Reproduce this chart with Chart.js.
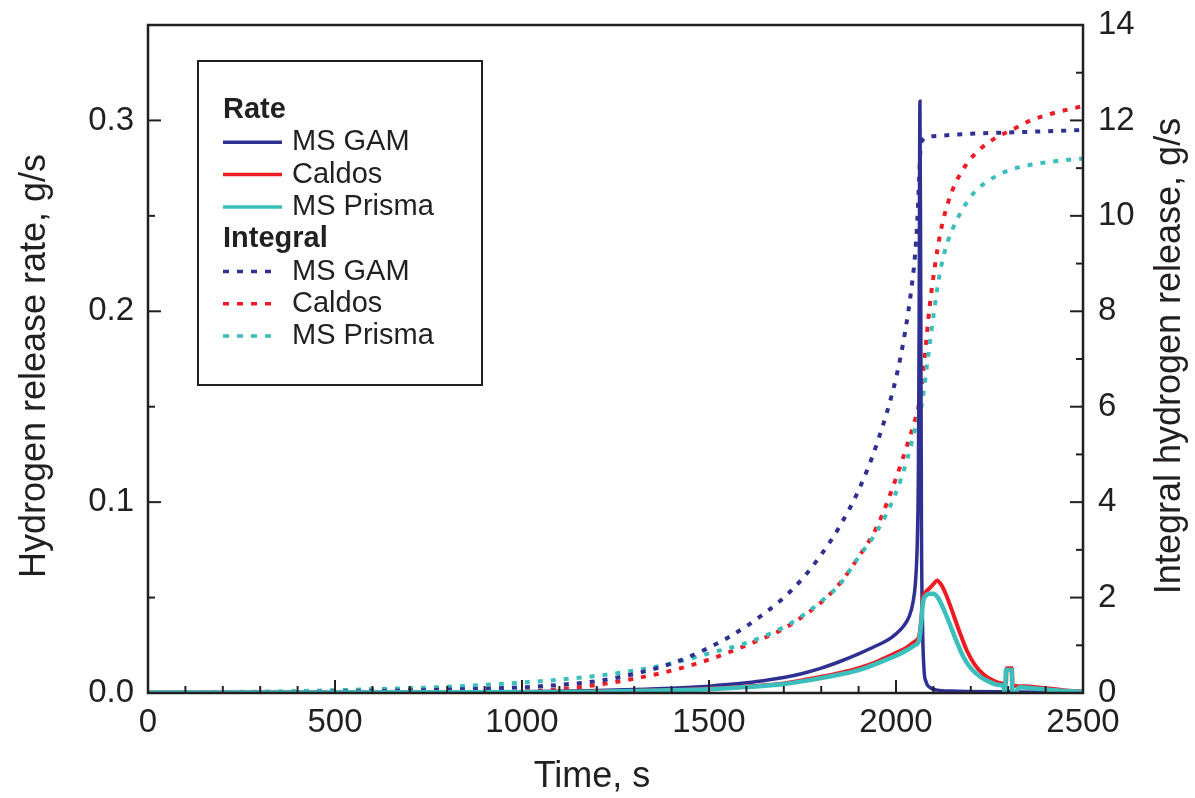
<!DOCTYPE html>
<html lang="en">
<head>
<meta charset="UTF-8">
<title>Hydrogen release</title>
<style>
  * { margin: 0; padding: 0; }
  body { background: #fff; width: 1195px; height: 798px; overflow: hidden; }
  canvas { display: block; }
</style>
</head>
<body>
<canvas id="chart" width="1195" height="798"></canvas>
<script src="https://cdn.jsdelivr.net/npm/chart.js@4/dist/chart.umd.min.js"></script>
<script>
// axis ticks
const xTicks    = [0, 500, 1000, 1500, 2000, 2500];
const rateTicks = [0, 0.1, 0.2, 0.3];
const intTicks  = [0, 2, 4, 6, 8, 10, 12, 14];

// release rate, g/s (left axis)
const gamRateT = [0, 200, 400, 600, 800, 1000, 1100, 1200, 1300, 1400, 1500, 1550, 1600, 1650, 1700, 1750, 1800, 1850, 1900, 1950, 1980, 2000, 2020, 2035, 2045, 2052, 2057, 2060, 2062, 2064, 2066, 2068, 2071, 2075, 2080, 2090, 2110, 2150, 2200, 2300, 2400, 2500];
const gamRate  = [0.0003, 0.0003, 0.0004, 0.0004, 0.0005, 0.0007, 0.0009, 0.0013, 0.0018, 0.0025, 0.0036, 0.0044, 0.0054, 0.0066, 0.0081, 0.0102, 0.013, 0.0165, 0.0205, 0.025, 0.028, 0.031, 0.035, 0.04, 0.047, 0.058, 0.08, 0.12, 0.2, 0.31, 0.22, 0.09, 0.035, 0.012, 0.006, 0.003, 0.0015, 0.001, 0.0008, 0.0006, 0.0004, 0.0003];

const caldosRateT = [0, 400, 800, 1000, 1200, 1300, 1400, 1500, 1600, 1700, 1800, 1850, 1900, 1950, 2000, 2030, 2050, 2062, 2068, 2072, 2080, 2090, 2100, 2110, 2120, 2135, 2150, 2170, 2190, 2210, 2235, 2260, 2285, 2294, 2296, 2310, 2312, 2340, 2400, 2450, 2500];
const caldosRate  = [0.0002, 0.0002, 0.0003, 0.0005, 0.0008, 0.0011, 0.0015, 0.0022, 0.0034, 0.005, 0.0085, 0.0105, 0.013, 0.0165, 0.021, 0.024, 0.027, 0.03, 0.04, 0.05, 0.053, 0.055, 0.057, 0.059, 0.057, 0.051, 0.043, 0.032, 0.022, 0.015, 0.0095, 0.0065, 0.005, 0.005, 0.013, 0.013, 0.004, 0.0035, 0.0025, 0.0015, 0.0008];

const prismaRateT = [0, 400, 800, 1000, 1200, 1300, 1400, 1500, 1600, 1700, 1800, 1850, 1900, 1950, 2000, 2030, 2050, 2062, 2068, 2072, 2080, 2090, 2100, 2112, 2125, 2140, 2160, 2180, 2200, 2225, 2250, 2275, 2288, 2291, 2294, 2309, 2312, 2330, 2380, 2440, 2500];
const prismaRate  = [0.0003, 0.0003, 0.0004, 0.0005, 0.0007, 0.001, 0.0014, 0.002, 0.0031, 0.0047, 0.0078, 0.0097, 0.012, 0.0155, 0.0195, 0.0225, 0.025, 0.028, 0.038, 0.047, 0.051, 0.052, 0.052, 0.05, 0.045, 0.038, 0.028, 0.019, 0.013, 0.0085, 0.0058, 0.0042, 0.0035, -0.003, 0.012, 0.012, -0.002, 0.003, 0.0022, 0.0012, 0.0007];

// integral release, g (right axis)
const gamIntT = [0, 400, 800, 1000, 1100, 1200, 1300, 1400, 1500, 1600, 1700, 1750, 1800, 1850, 1900, 1950, 2000, 2025, 2040, 2050, 2057, 2062, 2066, 2072, 2085, 2120, 2200, 2350, 2500];
const gamInt  = [0, 0.02, 0.07, 0.12, 0.17, 0.25, 0.4, 0.62, 0.95, 1.4, 2.0, 2.4, 2.9, 3.5, 4.25, 5.25, 6.6, 7.6, 8.4, 9.1, 9.9, 10.8, 11.45, 11.6, 11.65, 11.68, 11.72, 11.76, 11.8];

const caldosIntT = [0, 400, 800, 1000, 1100, 1200, 1300, 1400, 1500, 1600, 1700, 1750, 1800, 1850, 1900, 1950, 2000, 2030, 2050, 2065, 2075, 2090, 2105, 2120, 2140, 2160, 2190, 2225, 2270, 2310, 2360, 2420, 2500];
const caldosInt  = [0, 0, 0.01, 0.03, 0.08, 0.17, 0.3, 0.47, 0.7, 1.0, 1.35, 1.6, 1.9, 2.3, 2.85, 3.5, 4.5, 5.2, 5.7, 6.2, 6.9, 8.1, 9.0, 9.7, 10.3, 10.7, 11.1, 11.4, 11.65, 11.8, 12.0, 12.15, 12.3];

const prismaIntT = [0, 200, 400, 600, 800, 1000, 1100, 1200, 1300, 1400, 1500, 1600, 1700, 1750, 1800, 1850, 1900, 1950, 2000, 2030, 2050, 2070, 2085, 2100, 2115, 2130, 2150, 2175, 2210, 2250, 2300, 2360, 2430, 2500];
const prismaInt  = [0, 0.02, 0.04, 0.08, 0.13, 0.22, 0.28, 0.36, 0.47, 0.62, 0.83, 1.05, 1.38, 1.62, 1.92, 2.28, 2.85, 3.4, 4.2, 4.9, 5.5, 6.1, 7.0, 7.9, 8.7, 9.25, 9.7, 10.1, 10.5, 10.75, 10.95, 11.07, 11.15, 11.2];

const BLUE = '#2E3192';
const RED  = '#ED1C24';
const CYAN = '#3BBFBC';
const INK  = '#231F20';
const FONT = '"Liberation Sans", Arial, sans-serif';

const pts = (t, v) => t.map((x, i) => ({ x, y: v[i] }));

// lower order is drawn on top
const solid = (label, data, color, w, order) => ({
  label, data, order, yAxisID: 'yRate', group: 'Rate',
  borderColor: color, borderWidth: w, pointRadius: 0,
  cubicInterpolationMode: 'monotone', fill: false
});
const dotted = (label, data, color, order) => ({
  label, data, order, yAxisID: 'yInt', group: 'Integral',
  borderColor: color, borderWidth: 4, borderDash: [5, 8], pointRadius: 0,
  cubicInterpolationMode: 'monotone', fill: false
});

const datasets = [
  solid('MS GAM', pts(gamRateT, gamRate), BLUE, 3.5, 2),
  solid('Caldos', pts(caldosRateT, caldosRate), RED, 4, 1),
  solid('MS Prisma', pts(prismaRateT, prismaRate), CYAN, 4.5, 0),
  dotted('MS GAM', pts(gamIntT, gamInt), BLUE, 3),
  dotted('Caldos', pts(caldosIntT, caldosInt), RED, 5),
  dotted('MS Prisma', pts(prismaIntT, prismaInt), CYAN, 4)
];

// frame, inward ticks, axis titles and the boxed legend
const decor = {
  id: 'decor',
  afterDatasetsDraw(chart) {
    const { ctx, chartArea: a, scales } = chart;
    const x = scales.x, yl = scales.yRate, yr = scales.yInt;
    ctx.save();
    ctx.strokeStyle = INK;
    ctx.lineWidth = 2.5;
    ctx.strokeRect(a.left, a.top, a.right - a.left, a.bottom - a.top);

    const tick = (x1, y1, x2, y2) => { ctx.beginPath(); ctx.moveTo(x1, y1); ctx.lineTo(x2, y2); ctx.stroke(); };
    ctx.lineWidth = 2;
    for (let v = 0; v <= 2500; v += 100) {
      const px = x.getPixelForValue(v);
      tick(px, a.bottom, px, a.bottom - (v % 500 === 0 ? 13 : 7));
    }
    for (let i = 0; i <= 7; i++) {
      const py = yl.getPixelForValue(i * 0.05);
      tick(a.left, py, a.left + (i % 2 === 0 ? 13 : 7), py);
    }
    for (let v = 0; v <= 14; v++) {
      const py = yr.getPixelForValue(v);
      tick(a.right, py, a.right - (v % 2 === 0 ? 13 : 7), py);
    }

    // axis titles
    ctx.fillStyle = INK;
    ctx.font = '36px ' + FONT;
    ctx.textAlign = 'center';
    ctx.textBaseline = 'middle';
    ctx.fillText('Time, s', 592, 777);
    ctx.save();
    ctx.translate(35, 366);
    ctx.rotate(-Math.PI / 2);
    ctx.fillText('Hydrogen release rate, g/s', 0, 0);
    ctx.restore();
    ctx.save();
    ctx.translate(1170, 356);
    ctx.rotate(-Math.PI / 2);
    ctx.fillText('Integral hydrogen release, g/s', 0, 0);
    ctx.restore();

    // legend
    ctx.fillStyle = '#fff';
    ctx.fillRect(198, 61, 284, 324);
    ctx.strokeStyle = INK;
    ctx.lineWidth = 2;
    ctx.strokeRect(198, 61, 284, 324);
    ctx.textAlign = 'left';
    let y = 110;
    ['Rate', 'Integral'].forEach(group => {
      ctx.fillStyle = INK;
      ctx.font = 'bold 29px ' + FONT;
      ctx.fillText(group, 223, y);
      y += 32.3;
      chart.data.datasets.filter(d => d.group === group).forEach(d => {
        ctx.strokeStyle = d.borderColor;
        ctx.lineWidth = 3.5;
        ctx.setLineDash(d.borderDash ? [6, 8] : []);
        tick(223, y, d.borderDash ? 273 : 282, y);
        ctx.setLineDash([]);
        ctx.fillStyle = INK;
        ctx.font = '29px ' + FONT;
        ctx.fillText(d.label, 292, y);
        y += 32.3;
      });
    });
    ctx.restore();
  }
};

const noPad = s => { s.paddingTop = 0; s.paddingBottom = 0; s.paddingLeft = 0; s.paddingRight = 0; };

new Chart(document.getElementById('chart'), {
  type: 'line',
  data: { datasets },
  plugins: [decor],
  options: {
    responsive: false,
    animation: false,
    layout: { padding: { top: 25, left: 0, right: 0, bottom: 0 } },
    plugins: { legend: { display: false }, tooltip: { enabled: false } },
    scales: {
      x: {
        type: 'linear', min: 0, max: 2500,
        afterBuildTicks: s => { s.ticks = xTicks.map(value => ({ value })); },
        afterFit: s => { s.height = 105; noPad(s); },
        ticks: { font: { size: 33, family: FONT }, color: INK, padding: 10, maxRotation: 0, autoSkip: false, callback: v => v },
        grid: { display: false, drawTicks: false },
        border: { display: false }
      },
      yRate: {
        type: 'linear', position: 'left', min: 0, max: 0.35,
        afterBuildTicks: s => { s.ticks = rateTicks.map(value => ({ value })); },
        afterFit: s => { s.width = 148; noPad(s); },
        ticks: { font: { size: 33, family: FONT }, color: INK, padding: 14, callback: v => v.toFixed(1) },
        grid: { display: false, drawTicks: false },
        border: { display: false }
      },
      yInt: {
        type: 'linear', position: 'right', min: 0, max: 14,
        afterBuildTicks: s => { s.ticks = intTicks.map(value => ({ value })); },
        afterFit: s => { s.width = 112; noPad(s); },
        ticks: { font: { size: 33, family: FONT }, color: INK, padding: 15, callback: v => v },
        grid: { display: false, drawTicks: false },
        border: { display: false }
      }
    }
  }
});
</script>
</body>
</html>
